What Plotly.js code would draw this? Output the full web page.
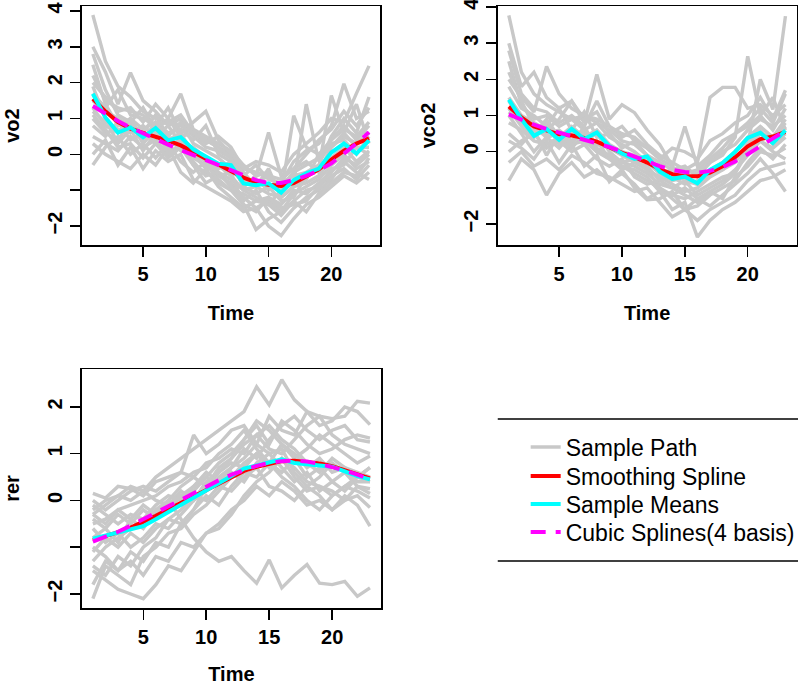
<!DOCTYPE html>
<html>
<head>
<meta charset="utf-8">
<script src="https://cdn.plot.ly/plotly-3.0.1.min.js"></script>
<style>html,body{margin:0;padding:0;background:#fff;}#chart{width:800px;height:685px;}</style>
</head>
<body>
<div id="chart"></div>
<script>
// ---------------- data ----------------
var time = [1,2,3,4,5,6,7,8,9,10,11,12,13,14,15,16,17,18,19,20,21,22,23];

// vo2 sample paths
var vo2_p01 = [3.89,2.6,1.9,1.6,1.2,1.0,0.9,1.1,0.6,0.4,0.2,0.0,-0.4,-0.5,-0.6,-0.9,-0.5,-0.3,-0.1,0.4,0.7,0.5,0.9];
var vo2_p02 = [3.0,2.3,1.4,2.28,1.5,1.2,0.8,1.0,0.5,0.2,0.1,-0.1,-0.6,-0.3,-0.7,-0.8,-0.2,0.1,0.3,0.8,1.97,1.0,1.2];
var vo2_p03 = [2.0,1.6,1.2,1.3,0.9,1.4,1.0,1.69,0.7,0.5,0.3,0.1,-0.3,-0.6,0.61,-0.6,-0.4,-0.2,-0.5,0.2,0.5,0.3,0.6];
var vo2_p04 = [1.7,1.3,1.8,1.1,1.0,0.8,1.3,0.6,0.9,1.2,0.4,0.0,-0.5,-0.9,-0.4,-1.2,-0.9,-0.8,-0.6,-0.1,0.2,-0.2,0.1];
var vo2_p05 = [1.0,0.6,0.4,0.9,0.3,0.7,0.2,0.4,-0.1,-0.3,-0.6,-0.8,-1.2,-1.5,-1.3,-1.6,-1.1,-0.9,-0.7,-0.3,0.0,-0.4,-0.2];
var vo2_p06 = [0.5,0.3,0.1,0.5,0.2,0.4,0.0,0.3,-0.3,-0.5,-0.7,-1.0,-1.4,-2.1,-1.8,-1.6,-1.3,-1.0,-0.9,-0.6,-0.4,-0.7,-0.3];
var vo2_p07 = [0.0,0.4,-0.3,0.2,-0.4,0.1,-0.2,0.0,-0.7,-0.9,-1.1,-1.3,-1.6,-1.5,-2.0,-2.27,-1.8,-1.4,-1.2,-0.9,-0.6,-0.8,-0.5];
var vo2_p08 = [-0.3,0.2,0.5,0.0,0.3,-0.1,0.3,-0.2,-0.5,-0.2,-0.8,-1.0,-1.1,-1.3,-1.2,-1.4,-1.0,-1.1,-0.8,-0.5,-0.1,-0.3,0.0];
var vo2_p09 = [1.5,1.2,1.0,0.8,0.6,1.1,0.5,0.9,0.3,0.1,-0.1,-0.4,-0.8,-0.7,-1.0,-0.8,-0.6,-0.5,-0.3,0.5,1.0,0.6,1.6];
var vo2_p10 = [2.5,1.4,0.8,1.0,0.7,0.9,0.6,0.7,0.4,0.8,0.0,-0.2,-0.9,-0.6,-0.5,-1.1,1.08,0.2,0.0,0.4,0.8,0.4,0.8];
var vo2_p11 = [1.2,0.9,0.7,0.6,0.8,0.5,0.8,0.3,0.2,-0.1,-0.4,-0.2,-0.9,-1.1,-0.9,-1.3,-1.2,-0.6,-0.4,1.64,0.6,1.4,0.3];
var vo2_p12 = [0.8,0.5,0.9,0.4,0.6,0.3,0.5,0.1,0.0,-0.4,-0.3,-0.6,-1.0,-1.2,-1.4,-1.0,-0.8,1.4,-0.2,0.3,0.4,0.0,0.5];
var vo2_p13 = [1.9,1.0,0.3,0.7,0.1,0.6,0.1,0.2,-0.2,-0.6,-0.5,-0.9,-1.3,-1.0,-1.6,-1.9,-1.5,-1.2,-1.0,-0.7,-0.2,-0.5,-0.7];
var vo2_p14 = [2.8,1.8,1.1,0.9,1.3,0.7,1.0,0.5,0.6,0.3,0.5,0.2,-0.4,-0.2,-0.3,-0.5,0.0,0.3,0.6,1.0,0.9,1.7,2.47];
var vo2_p15 = [1.3,0.8,0.6,1.0,0.4,0.9,0.4,0.6,0.0,-0.2,-0.5,-0.7,-1.0,-0.9,-1.1,-1.2,-0.9,-0.7,0.0,0.2,0.6,0.2,0.2];
var vo2_p16 = [0.3,0.0,-0.2,-0.4,0.0,-0.3,0.2,-0.5,-0.8,-0.4,-0.9,-1.2,-1.5,-1.3,-1.4,-1.7,-1.3,-1.6,-1.1,-0.8,-0.5,-0.6,-0.1];
var vo2_p17 = [2.2,1.5,1.3,1.2,1.1,0.8,0.9,0.8,0.6,0.4,0.2,-0.1,-0.7,-0.8,-0.6,-0.7,-0.4,0.0,0.4,0.7,1.2,0.8,1.3];
var vo2_p18 = [1.1,0.7,0.2,0.3,-0.1,0.3,-0.1,0.2,-0.3,-0.8,-0.6,-0.5,-1.4,-1.6,-1.2,-1.5,-1.4,-1.3,-0.9,-0.4,-0.3,0.2,0.0];
var vo2_smooth = [1.55,1.2,0.9,0.72,0.6,0.5,0.38,0.25,0.05,-0.12,-0.28,-0.45,-0.65,-0.78,-0.85,-0.88,-0.8,-0.62,-0.42,-0.15,0.1,0.3,0.45];
var vo2_mean = [1.69,1.03,0.61,0.75,0.48,0.73,0.39,0.48,0.14,-0.07,-0.26,-0.3,-0.81,-0.86,-0.81,-1.07,-0.72,-0.53,-0.4,0.05,0.3,0.02,0.39];
var vo2_cubic = [1.35,1.13,0.93,0.75,0.58,0.42,0.27,0.12,-0.02,-0.15,-0.3,-0.45,-0.6,-0.72,-0.8,-0.8,-0.72,-0.6,-0.45,-0.25,0.02,0.3,0.62];

// vco2 sample paths
var vco2_p01 = [3.77,2.2,1.6,1.3,1.1,0.9,1.0,0.8,0.6,0.3,0.2,-0.1,-0.3,-0.5,-0.4,-0.7,-0.3,0.0,0.2,0.6,0.9,0.7,1.0];
var vco2_p02 = [3.0,1.8,2.2,1.5,1.2,1.4,0.9,1.1,0.5,0.7,0.3,0.1,-0.2,-0.4,0.7,-0.4,-0.1,0.3,0.5,0.8,1.2,0.8,1.6];
var vco2_p03 = [2.0,1.5,1.1,2.36,1.6,1.2,1.0,0.9,0.7,0.4,0.6,0.2,-0.1,-0.3,-0.5,-0.3,1.5,1.78,1.78,1.2,1.3,1.0,1.3];
var vco2_p04 = [1.5,1.0,0.8,0.6,0.9,1.4,0.8,2.14,0.9,1.3,1.08,0.6,0.2,-0.4,-0.8,-0.9,-0.6,-0.5,-0.3,0.2,0.5,0.4,0.9];
var vco2_p05 = [0.8,0.6,0.3,0.2,0.4,0.1,0.5,0.0,-0.2,-0.4,-0.6,-0.8,-1.0,-1.2,-1.3,-1.1,-0.9,-0.7,-0.6,0.2,2.0,1.17,3.75];
var vco2_p06 = [-0.8,-0.2,-0.5,-1.2,-0.6,-0.3,-0.7,-0.5,-0.8,-0.6,-0.9,-1.3,-1.1,-1.6,-1.4,-2.36,-1.9,-1.6,-1.4,-1.1,-0.8,-0.7,-0.5];
var vco2_p07 = [0.3,0.1,-0.2,0.3,-0.3,0.2,-0.4,-0.1,-0.83,-0.5,-1.0,-1.33,-1.3,-1.1,-1.6,-1.3,-1.5,-1.2,-0.9,-0.6,-0.2,-0.6,-1.1];
var vco2_p08 = [1.2,0.7,0.4,0.8,0.2,0.6,0.3,0.5,0.0,-0.3,-0.4,-0.6,-0.9,-1.0,-0.8,-1.2,-1.0,-0.8,-0.5,-0.1,0.3,0.1,0.4];
var vco2_p09 = [2.5,1.3,0.9,1.0,0.7,0.9,0.6,0.8,0.4,0.2,0.0,-0.3,-0.6,-0.8,-0.7,-0.9,-0.5,-0.3,0.0,0.4,0.7,0.4,0.8];
var vco2_p10 = [1.0,0.5,0.0,0.4,0.1,0.5,0.2,0.3,-0.2,-0.5,-0.3,-0.5,-1.0,-1.3,-1.6,-1.5,-1.2,-1.0,-0.8,-0.3,0.1,-0.2,0.2];
var vco2_p11 = [0.0,0.3,0.5,0.1,0.3,0.0,0.2,-0.2,-0.4,-0.2,-0.7,-0.9,-0.8,-1.0,-1.2,-1.4,-1.1,-1.3,-0.7,-0.4,0.0,-0.1,0.1];
var vco2_p12 = [1.8,1.2,1.0,0.7,1.2,0.6,1.1,0.4,0.5,0.1,0.3,-0.1,-0.5,-0.6,-0.5,-0.6,-0.3,-0.1,0.4,2.64,1.0,1.5,0.6];
var vco2_p13 = [0.5,0.2,0.6,-0.1,0.5,0.2,0.7,0.1,-0.1,-0.3,-0.2,-0.5,-0.7,-0.9,-1.1,-1.0,-0.7,-0.5,-0.2,0.1,0.3,0.0,-0.2];
var vco2_p14 = [2.8,1.6,1.2,1.1,0.8,1.0,0.7,1.4,0.7,0.5,0.4,0.1,-0.2,0.1,0.0,-0.2,0.3,0.5,0.8,1.0,1.5,0.9,1.7];
var vco2_p15 = [1.4,0.9,0.6,0.5,0.6,0.3,0.6,0.2,0.1,-0.1,-0.3,-0.4,-0.8,-0.7,-0.9,-0.8,-0.6,-0.4,0.0,0.3,0.6,0.2,0.5];
var vco2_p16 = [-0.3,0.0,-0.4,-0.2,-0.5,-0.1,-0.3,-0.6,-0.7,-0.9,-1.1,-1.0,-1.4,-1.8,-1.6,-1.9,-1.6,-1.4,-1.2,-0.8,-0.5,-0.4,-0.3];
var vco2_p17 = [1.1,0.8,0.5,0.9,0.4,0.7,0.4,0.6,0.2,0.0,-0.1,-0.2,-0.6,-0.5,-0.6,-0.5,-0.2,0.1,0.5,0.7,1.0,0.6,1.2];
var vco2_p18 = [2.2,1.4,0.7,0.4,0.5,0.2,0.3,0.0,-0.1,-0.4,-0.5,-0.7,-1.1,-1.2,-1.0,-1.3,-1.1,-0.9,-0.6,0.0,0.5,0.3,0.7];
var vco2_smooth = [1.25,0.95,0.7,0.58,0.48,0.45,0.38,0.28,0.12,-0.03,-0.15,-0.3,-0.48,-0.62,-0.68,-0.68,-0.58,-0.4,-0.15,0.15,0.35,0.42,0.55];
var vco2_mean = [1.44,0.9,0.44,0.63,0.33,0.63,0.35,0.53,0.15,-0.05,-0.2,-0.13,-0.55,-0.75,-0.69,-0.87,-0.5,-0.31,0.0,0.38,0.52,0.24,0.59];
var vco2_cubic = [1.03,0.88,0.75,0.63,0.53,0.44,0.35,0.25,0.13,0.0,-0.13,-0.27,-0.4,-0.5,-0.56,-0.58,-0.53,-0.43,-0.27,-0.07,0.16,0.37,0.58];

// rer sample paths
var rer_p01 = [-0.2,0.0,0.1,0.3,0.2,0.5,0.7,0.9,1.1,1.3,1.5,1.7,1.9,2.43,2.04,2.58,2.15,1.9,1.8,1.75,1.8,2.12,2.08];
var rer_p02 = [0.15,0.05,0.3,0.25,0.1,0.4,0.5,0.6,1.4,1.0,1.2,1.5,1.6,1.2,1.8,1.5,1.4,1.9,1.6,1.7,2.0,1.9,1.62];
var rer_p03 = [-1.3,-1.0,-0.8,-0.6,-0.5,-0.3,-0.2,0.1,0.3,0.5,0.8,1.0,1.3,1.6,1.2,1.7,1.5,1.2,1.0,1.1,1.3,1.4,1.33];
var rer_p04 = [0.0,-0.2,0.0,0.2,0.3,0.2,0.4,0.6,0.5,0.8,0.9,1.1,1.0,1.4,1.1,1.0,1.3,1.6,1.8,1.4,1.2,1.1,1.0];
var rer_p05 = [-0.5,-0.4,-0.2,-0.1,0.0,0.1,0.3,0.4,0.6,0.7,1.0,1.2,1.5,1.1,0.8,1.2,1.0,0.7,0.9,0.6,0.7,0.5,0.4];
var rer_p06 = [-0.3,-0.5,-0.2,-0.4,-0.1,-0.3,0.0,-0.4,-0.8,-1.1,-1.3,-1.2,-1.5,-1.77,-1.27,-1.87,-1.6,-1.37,-1.77,-1.8,-1.73,-2.05,-1.87];
var rer_p07 = [-2.1,-1.4,-1.6,-1.8,-1.2,-1.0,-0.7,-0.6,-0.3,-0.1,0.2,0.5,0.8,1.0,0.7,0.9,0.5,0.2,0.3,0.1,0.3,0.2,0.05];
var rer_p08 = [-1.5,-1.7,-1.9,-2.0,-2.1,-1.8,-1.4,-1.5,-1.1,-0.7,-0.6,-0.3,0.1,0.4,0.6,0.9,0.7,0.4,0.3,0.2,0.0,0.1,-0.15];
var rer_p09 = [-1.0,-1.2,-1.5,-1.3,-1.6,-1.2,-1.3,-0.9,-1.0,-0.7,-0.5,-0.2,0.0,0.3,0.1,0.4,0.2,-0.1,0.0,-0.2,0.1,-0.1,-0.55];
var rer_p10 = [-0.8,-0.6,-0.9,-0.4,-0.6,-0.2,0.0,0.3,0.5,0.3,0.7,0.9,1.2,1.4,1.6,1.3,1.1,0.8,0.6,0.9,0.7,0.6,0.5];
var rer_p11 = [-0.3,-0.1,0.1,0.0,0.2,0.0,-0.1,0.2,0.0,0.4,0.6,0.8,0.7,1.0,0.8,0.5,0.3,0.0,-0.2,0.1,0.3,0.5,0.7];
var rer_p12 = [-1.8,-1.3,-1.5,-1.1,-1.3,-0.9,-1.0,-0.5,-0.2,0.1,-0.1,0.3,0.6,0.5,0.8,0.6,0.9,1.1,1.4,1.2,1.0,0.8,0.95];
var rer_p13 = [-0.6,-0.9,-0.7,-1.0,-0.8,-0.5,-0.6,-0.3,0.0,0.2,0.5,0.7,0.9,1.2,1.0,1.1,0.6,0.3,0.1,-0.2,0.0,0.3,0.25];
var rer_p14 = [-1.4,-1.6,-1.2,-1.4,-1.0,-0.8,-0.4,-0.2,0.1,0.0,0.3,0.6,0.4,0.8,1.0,0.7,0.4,0.6,0.2,0.4,0.6,0.3,0.15];
var rer_p15 = [-0.1,-0.3,-0.5,-0.3,-0.4,-0.1,0.1,0.0,0.3,0.6,0.4,0.7,1.1,0.9,1.3,1.6,1.8,1.5,1.3,1.5,1.6,1.3,1.25];
var rer_p16 = [-1.1,-0.8,-1.0,-0.7,-0.9,-0.6,-0.4,-0.5,-0.2,0.3,0.6,0.9,1.3,1.7,1.5,1.2,0.9,0.5,0.7,0.4,0.2,0.5,0.7];
var rer_p17 = [-0.4,-0.6,-0.3,-0.5,-0.2,-0.4,-0.2,0.1,0.2,0.5,0.3,0.2,0.5,0.7,0.3,0.2,0.0,0.3,0.5,0.8,0.6,0.4,0.4];
var rer_smooth = [-0.85,-0.77,-0.68,-0.58,-0.46,-0.33,-0.19,-0.05,0.09,0.23,0.37,0.51,0.63,0.72,0.79,0.84,0.85,0.83,0.79,0.73,0.65,0.56,0.47];
var rer_mean = [-0.82,-0.75,-0.7,-0.62,-0.55,-0.4,-0.25,-0.1,0.05,0.2,0.35,0.52,0.68,0.75,0.82,0.88,0.8,0.78,0.75,0.72,0.62,0.52,0.45];
var rer_cubic = [-0.88,-0.78,-0.67,-0.54,-0.4,-0.26,-0.12,0.03,0.17,0.3,0.43,0.55,0.65,0.74,0.8,0.84,0.85,0.83,0.78,0.72,0.64,0.55,0.45];

var xTickVals = [5,10,15,20];
var yTickVals12 = [-2,-1,0,1,2,3,4];
var yTickText12 = ['\u22122','','0','1','2','3','4'];
var yTickVals3 = [-2,-1,0,1,2];
var yTickText3 = ['\u22122','','0','1','2'];
var legendNames = ['Sample Path','Smoothing Spline','Sample Means','Cubic Splines(4 basis)'];

var panels = [
  {xa:'x',  ya:'y',  paths:[vo2_p01,vo2_p02,vo2_p03,vo2_p04,vo2_p05,vo2_p06,vo2_p07,vo2_p08,vo2_p09,vo2_p10,vo2_p11,vo2_p12,vo2_p13,vo2_p14,vo2_p15,vo2_p16,vo2_p17,vo2_p18], smooth:vo2_smooth, mean:vo2_mean, cubic:vo2_cubic},
  {xa:'x2', ya:'y2', paths:[vco2_p01,vco2_p02,vco2_p03,vco2_p04,vco2_p05,vco2_p06,vco2_p07,vco2_p08,vco2_p09,vco2_p10,vco2_p11,vco2_p12,vco2_p13,vco2_p14,vco2_p15,vco2_p16,vco2_p17,vco2_p18], smooth:vco2_smooth, mean:vco2_mean, cubic:vco2_cubic},
  {xa:'x3', ya:'y3', paths:[rer_p01,rer_p02,rer_p03,rer_p04,rer_p05,rer_p06,rer_p07,rer_p08,rer_p09,rer_p10,rer_p11,rer_p12,rer_p13,rer_p14,rer_p15,rer_p16,rer_p17], smooth:rer_smooth, mean:rer_mean, cubic:rer_cubic}
];

var GRAY = '#c8c8c8';
var traces = [];
panels.forEach(function(p, pi){
  p.paths.forEach(function(vals, k){
    traces.push({x:time, y:vals, xaxis:p.xa, yaxis:p.ya, type:'scatter', mode:'lines',
      line:{color:GRAY, width:3.4}, name:legendNames[0], legend:'legend',
      showlegend:(pi===0 && k===0), hoverinfo:'skip'});
  });
});
panels.forEach(function(p, pi){
  traces.push({x:time, y:p.smooth, xaxis:p.xa, yaxis:p.ya, type:'scatter', mode:'lines',
    line:{color:'#ff0000', width:4}, name:legendNames[1], legend:'legend2', showlegend:pi===0});
});
panels.forEach(function(p, pi){
  traces.push({x:time, y:p.mean, xaxis:p.xa, yaxis:p.ya, type:'scatter', mode:'lines',
    line:{color:'#00ffff', width:4}, name:legendNames[2], legend:'legend3', showlegend:pi===0});
});
panels.forEach(function(p, pi){
  traces.push({x:time, y:p.cubic, xaxis:p.xa, yaxis:p.ya, type:'scatter', mode:'lines',
    line:{color:'#ff00ff', width:4, dash:'15px,10px'}, name:legendNames[3], legend:'legend4', showlegend:pi===0});
});

var FONT = 'Liberation Sans, Arial, sans-serif';
function xax(domain, anchor){
  return {domain:domain, anchor:anchor, range:[0.12,23.88], tickvals:xTickVals,
    showline:true, mirror:true, linecolor:'#000', linewidth:1.5, ticks:'outside', ticklen:10,
    tickwidth:1.5, tickcolor:'#000', showgrid:false, zeroline:false,
    tickfont:{family:FONT, size:20, color:'#000', weight:'bold'},
    title:{text:'Time', font:{family:FONT, size:20, color:'#000', weight:'bold'}, standoff:22}};
}
function yax(domain, anchor, range, tv, tt, label){
  return {domain:domain, anchor:anchor, range:range, tickvals:tv, ticktext:tt, tickangle:-90,
    ticklabeloverflow:'allow',
    showline:true, mirror:true, linecolor:'#000', linewidth:1.5, ticks:'outside', ticklen:10,
    tickwidth:1.5, tickcolor:'#000', showgrid:false, zeroline:false,
    tickfont:{family:FONT, size:20, color:'#000', weight:'bold'},
    title:{text:label, font:{family:FONT, size:20, color:'#000', weight:'bold'}, standoff:19}};
}
function leg(yc){
  return {x:527/800, y:1-yc/685, xanchor:'left', yanchor:'middle', bgcolor:'rgba(0,0,0,0)',
    borderwidth:0, font:{family:FONT, size:23, color:'#000'}, itemwidth:30};
}

var layout = {
  width:800, height:685, margin:{l:0,r:0,t:0,b:0},
  paper_bgcolor:'#fff', plot_bgcolor:'#fff',
  xaxis: xax([82/800, 381/800], 'y'),
  yaxis: yax([1-245/685, 1-6/685], 'x', [-2.53,4.14], yTickVals12, yTickText12, 'vo2'),
  xaxis2: xax([499/800, 798.5/800], 'y2'),
  yaxis2: yax([1-245/685, 1-6/685], 'x2', [-2.58,4.03], yTickVals12, yTickText12, 'vco2'),
  xaxis3: xax([82/800, 382/800], 'y3'),
  yaxis3: yax([1-608/685, 1-369/685], 'x3', [-2.30,2.81], yTickVals3, yTickText3, 'rer'),
  showlegend:true,
  legend: leg(447), legend2: leg(476), legend3: leg(504), legend4: leg(532),
  shapes:[
    {type:'line', xref:'paper', yref:'paper', x0:499/800, x1:1, y0:1-419/685, y1:1-419/685, line:{color:'#000', width:1.5}},
    {type:'line', xref:'paper', yref:'paper', x0:499/800, x1:1, y0:1-561/685, y1:1-561/685, line:{color:'#000', width:1.5}}
  ]
};

Plotly.newPlot('chart', traces, layout, {displayModeBar:false, staticPlot:true});
</script>
</body>
</html>
